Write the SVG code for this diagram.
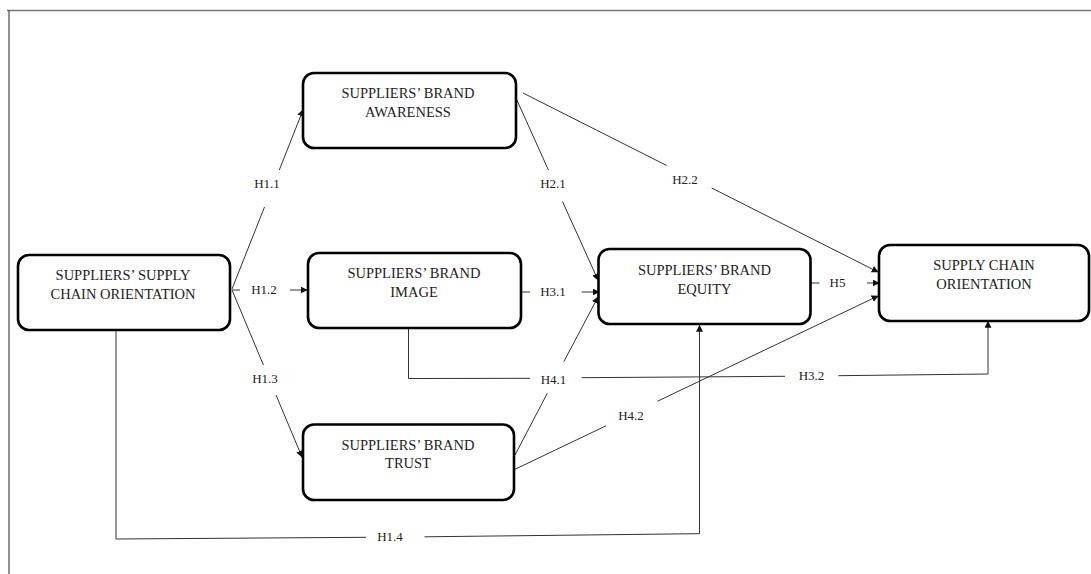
<svg xmlns="http://www.w3.org/2000/svg" width="1091" height="574" viewBox="0 0 1091 574">
<style>
.node rect{fill:#fff;stroke:#000;stroke-width:2.6}
.nt{font-family:"Liberation Serif","Times New Roman",serif;font-size:14.5px;fill:#222;text-anchor:middle}
.lbl{font-family:"Liberation Serif","Times New Roman",serif;font-size:13px;fill:#222;text-anchor:middle}
.c{fill:none;stroke:#333;stroke-width:1}
.ca{fill:none;stroke:#333;stroke-width:1;marker-end:url(#ah)}
</style>
<defs>
<marker id="ah" viewBox="0 0 10 10" refX="9" refY="5" markerWidth="7" markerHeight="7" markerUnits="userSpaceOnUse" orient="auto">
<path d="M0,0 L10,5 L0,10 z" fill="#111"/>
</marker>
</defs>
<rect width="1091" height="574" fill="#fff"/>
<g id="frame">
<line x1="7" y1="10.5" x2="1091" y2="10.5" stroke="#777" stroke-width="1.5"/>
<line x1="9" y1="10" x2="9" y2="574" stroke="#555" stroke-width="1.3"/>
</g>
<g id="connectors">
<!-- H1.1 -->
<line class="c" x1="232" y1="289" x2="264.5" y2="207"/>
<line class="ca" x1="279.3" y1="170" x2="303" y2="110"/>
<text class="lbl" x="267" y="188">H1.1</text>
<!-- H1.2 -->
<line class="c" x1="232" y1="290" x2="240" y2="290"/>
<line class="ca" x1="290" y1="290" x2="307" y2="290"/>
<text class="lbl" x="264" y="294">H1.2</text>
<!-- H1.3 -->
<line class="c" x1="232" y1="290" x2="263.4" y2="365"/>
<line class="ca" x1="276" y1="395" x2="302" y2="457"/>
<text class="lbl" x="265" y="383">H1.3</text>
<!-- H1.4 -->
<polyline class="c" points="116,330 116,539 366,537.3"/>
<polyline class="ca" points="424.5,536.8 699.5,533.7 699.5,325.5"/>
<text class="lbl" x="390" y="541">H1.4</text>
<!-- H2.1 -->
<line class="c" x1="516" y1="98" x2="548.4" y2="170"/>
<line class="ca" x1="562.5" y1="201.5" x2="598" y2="280"/>
<text class="lbl" x="553" y="188">H2.1</text>
<!-- H2.2 -->
<line class="c" x1="523" y1="93" x2="666.7" y2="165.5"/>
<line class="ca" x1="711.7" y1="188" x2="878" y2="272"/>
<text class="lbl" x="685" y="184">H2.2</text>
<!-- H3.1 -->
<line class="c" x1="521" y1="292" x2="530" y2="292"/>
<line class="ca" x1="581.7" y1="292" x2="599" y2="292"/>
<text class="lbl" x="553" y="296">H3.1</text>
<!-- H3.2 (from image box) -->
<polyline class="c" points="408.5,328 408.5,378.5 530,378.3"/>
<line class="c" x1="581.7" y1="377.7" x2="785" y2="376.3"/>
<polyline class="ca" points="838.3,375.7 988,374 988,321.5"/>
<text class="lbl" x="811.5" y="380">H3.2</text>
<text class="lbl" x="553.5" y="384">H4.1</text>
<!-- H4.1 -->
<line class="c" x1="515" y1="455" x2="547.3" y2="393.3"/>
<line class="ca" x1="563.8" y1="361.7" x2="598" y2="297"/>
<!-- H4.2 -->
<line class="c" x1="515" y1="469.3" x2="606" y2="425.8"/>
<line class="ca" x1="657.3" y1="401.3" x2="878" y2="296"/>
<text class="lbl" x="631" y="420">H4.2</text>
<!-- H5 -->
<line class="c" x1="811" y1="283" x2="819.5" y2="283"/>
<line class="ca" x1="867" y1="283" x2="879" y2="283"/>
<text class="lbl" x="837.5" y="287">H5</text>
</g>
<g id="n_ssco" class="node">
<rect x="18" y="255" width="212" height="75" rx="11"/>
<text class="nt" x="123" y="280">SUPPLIERS’ SUPPLY</text>
<text class="nt" x="123" y="299">CHAIN ORIENTATION</text>
</g>
<g id="n_awareness" class="node">
<rect x="303" y="73" width="213" height="75" rx="11"/>
<text class="nt" x="408" y="98">SUPPLIERS’ BRAND</text>
<text class="nt" x="408" y="117">AWARENESS</text>
</g>
<g id="n_image" class="node">
<rect x="308" y="253" width="213" height="75" rx="11"/>
<text class="nt" x="414" y="278">SUPPLIERS’ BRAND</text>
<text class="nt" x="414" y="297">IMAGE</text>
</g>
<g id="n_equity" class="node">
<rect x="598.5" y="249" width="212" height="75" rx="11"/>
<text class="nt" x="704.5" y="275">SUPPLIERS’ BRAND</text>
<text class="nt" x="704.5" y="294">EQUITY</text>
</g>
<g id="n_sco" class="node">
<rect x="879" y="245" width="210" height="76" rx="11"/>
<text class="nt" x="984" y="270">SUPPLY CHAIN</text>
<text class="nt" x="984" y="289">ORIENTATION</text>
</g>
<g id="n_trust" class="node">
<rect x="303" y="424.5" width="211" height="75.5" rx="11"/>
<text class="nt" x="408" y="450">SUPPLIERS’ BRAND</text>
<text class="nt" x="408" y="468">TRUST</text>
</g>
</svg>
